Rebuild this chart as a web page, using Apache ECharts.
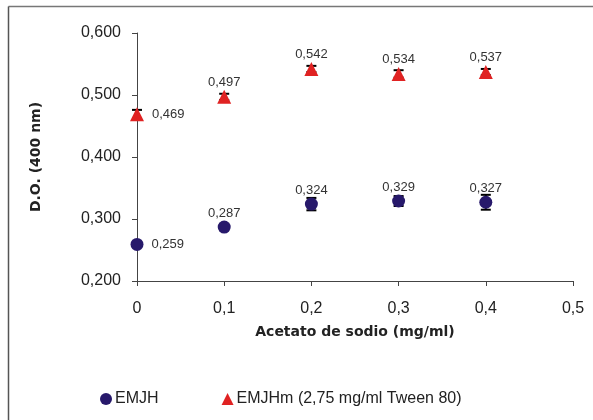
<!DOCTYPE html>
<html>
<head>
<meta charset="utf-8">
<script src="https://cdn.jsdelivr.net/npm/echarts@6/dist/echarts.min.js"></script>
<style>
  html, body { margin: 0; padding: 0; background: #fff; }
  #chart { width: 593px; height: 420px; }
</style>
</head>
<body>
<div id="chart"></div>
<script>
const xValues = [0, 0.1, 0.2, 0.3, 0.4];
const emjh = [0.259, 0.287, 0.324, 0.329, 0.327];
const emjhErr = [0.003, 0.005, 0.010, 0.008, 0.012];
const emjhm = [0.469, 0.497, 0.542, 0.534, 0.537];
const emjhmErr = [0.007, 0.005, 0.005, 0.006, 0.005];

const comma = v => String(v).replace('.', ',');

// first point of each series has its label on the right, the rest above
function pts(ys) {
  return xValues.map((x, i) => {
    const item = { value: [x, ys[i]] };
    if (i === 0) item.label = { position: 'right', distance: 8 };
    return item;
  });
}
function errPts(ys, es) {
  return xValues.map((x, i) => [x, ys[i] - es[i], ys[i] + es[i]]);
}
function errRender(params, api) {
  const lo = api.coord([api.value(0), api.value(1)]);
  const hi = api.coord([api.value(0), api.value(2)]);
  const w = 5;
  const st = { stroke: '#000', lineWidth: 2 };
  return {
    type: 'group',
    children: [
      { type: 'line', shape: { x1: lo[0], y1: lo[1], x2: hi[0], y2: hi[1] }, style: st },
      { type: 'line', shape: { x1: lo[0] - w, y1: lo[1], x2: lo[0] + w, y2: lo[1] }, style: st },
      { type: 'line', shape: { x1: hi[0] - w, y1: hi[1], x2: hi[0] + w, y2: hi[1] }, style: st }
    ]
  };
}

const titleFont = { fontSize: 14, fontWeight: 'bold', color: '#222', fontFamily: 'DejaVu Sans' };
const dataLabel = {
  show: true,
  position: 'top',
  distance: 1,
  fontSize: 13,
  color: '#333',
  formatter: p => comma(p.value[1])
};

let myChart = echarts.init(document.getElementById('chart'));
myChart.setOption({
  animation: false,
  textStyle: { fontFamily: 'Liberation Sans, Arial, sans-serif' },
  graphic: [
    { type: 'line', shape: { x1: 8.5, y1: 6.5, x2: 593, y2: 6.5 }, style: { stroke: '#777', lineWidth: 1.5 } },
    { type: 'line', shape: { x1: 8.5, y1: 6.5, x2: 8.5, y2: 420 }, style: { stroke: '#555', lineWidth: 1.5 } }
  ],
  grid: { left: 137, right: 20, top: 33, bottom: 139 },
  legend: {
    left: 95,
    top: 386,
    itemGap: 63,
    itemWidth: 12,
    itemHeight: 12,
    textStyle: { fontSize: 16, color: '#222', padding: [0, 0, 0, -2] },
    data: [
      { name: 'EMJH', icon: 'circle' },
      { name: 'EMJHm (2,75 mg/ml Tween 80)', icon: 'triangle' }
    ]
  },
  xAxis: {
    type: 'value',
    min: 0,
    max: 0.5,
    interval: 0.1,
    name: 'Acetato de sodio (mg/ml)',
    nameLocation: 'middle',
    nameGap: 44,
    nameTextStyle: titleFont,
    splitLine: { show: false },
    axisLine: { lineStyle: { color: '#444', width: 1 } },
    axisTick: { length: 5, lineStyle: { color: '#444' } },
    axisLabel: { fontSize: 16, color: '#222', margin: 20, formatter: v => comma(v) }
  },
  yAxis: {
    type: 'value',
    min: 0.2,
    max: 0.6,
    interval: 0.1,
    name: 'D.O. (400 nm)',
    nameLocation: 'middle',
    nameGap: 94,
    nameTextStyle: titleFont,
    splitLine: { show: false },
    axisLine: { show: true, lineStyle: { color: '#444', width: 1 } },
    axisTick: { show: true, length: 5, lineStyle: { color: '#444' } },
    axisLabel: { fontSize: 16, color: '#222', margin: 16, formatter: v => comma(v.toFixed(3)) }
  },
  series: [
    {
      type: 'custom',
      name: 'errEMJH',
      renderItem: errRender,
      data: errPts(emjh, emjhErr),
      clip: false,
      z: 1
    },
    {
      type: 'custom',
      name: 'errEMJHm',
      renderItem: errRender,
      data: errPts(emjhm, emjhmErr),
      clip: false,
      z: 1
    },
    {
      name: 'EMJH',
      type: 'scatter',
      symbol: 'circle',
      symbolSize: 13,
      itemStyle: { color: '#27196b', opacity: 1 },
      data: pts(emjh),
      z: 3,
      label: dataLabel
    },
    {
      name: 'EMJHm (2,75 mg/ml Tween 80)',
      type: 'scatter',
      symbol: 'triangle',
      symbolSize: 14,
      itemStyle: { color: '#e02222', opacity: 1 },
      data: pts(emjhm),
      z: 3,
      label: dataLabel
    }
  ]
});
</script>
</body>
</html>
